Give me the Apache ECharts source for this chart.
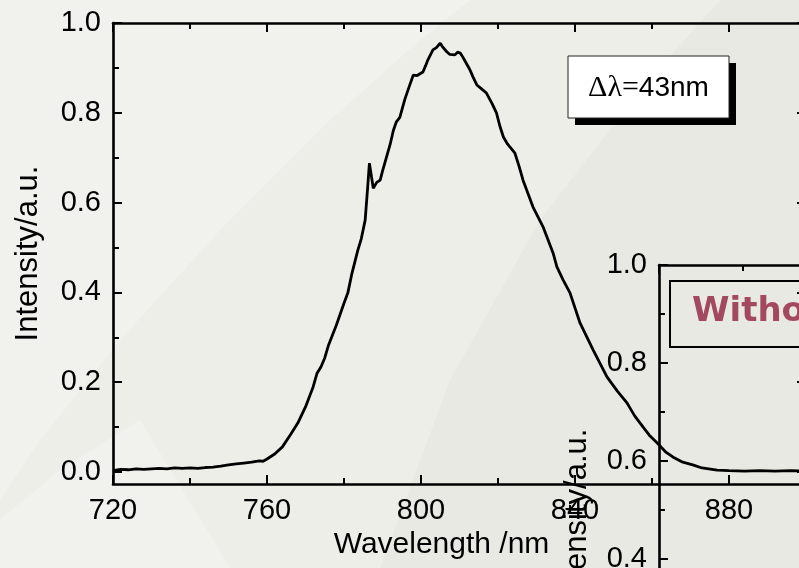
<!DOCTYPE html>
<html>
<head>
<meta charset="utf-8">
<script src="https://cdn.jsdelivr.net/npm/echarts@6/dist/echarts.min.js"></script>
<style>
html,body{margin:0;padding:0;background:#eeeee9;}
#chart{width:799px;height:568px;}
</style>
</head>
<body>
<div id="chart"></div>
<script>
// ---- data ----
const wavelengths = [720,722,724,726,728,730,732,734,736,738,740,742,744,746,748,750,752,754,756,758,759,760,762,764,766,768,770,772,773,774,775,776,778,780,781,782,783.6,784.5,785.5,786.2,786.6,787.1,787.6,788.5,789.4,790,791,792,792.8,793.6,794.5,795.8,797,798,799,800.5,801.2,801.8,803.1,804,805,805.5,806.7,807.5,808.8,809.5,810.2,811,811.4,812.7,813.5,814.5,815.5,817,818.5,819.6,820.5,821.4,822.5,824.4,825.5,826.5,829.1,831.7,834.3,835.3,836.9,838.7,841.3,844.7,848.3,851,853.5,855.5,857.7,859.5,861.3,863.5,865.5,868,870.6,873,876.9,880,884,888,892,896,900];
const intensity = [0.003,0.006,0.005,0.007,0.006,0.007,0.008,0.007,0.009,0.008,0.009,0.008,0.010,0.011,0.013,0.016,0.018,0.020,0.022,0.025,0.024,0.029,0.040,0.056,0.082,0.109,0.145,0.190,0.220,0.234,0.254,0.283,0.327,0.376,0.399,0.440,0.494,0.520,0.561,0.640,0.688,0.660,0.632,0.645,0.650,0.670,0.700,0.730,0.760,0.780,0.790,0.830,0.860,0.884,0.883,0.891,0.905,0.918,0.940,0.945,0.955,0.948,0.936,0.930,0.929,0.935,0.933,0.922,0.925,0.896,0.880,0.862,0.855,0.844,0.820,0.800,0.770,0.746,0.730,0.710,0.680,0.650,0.590,0.546,0.488,0.457,0.428,0.399,0.332,0.272,0.212,0.180,0.154,0.125,0.100,0.080,0.065,0.045,0.033,0.022,0.016,0.009,0.004,0.003,0.002,0.003,0.002,0.003,0.002];

const xMajorTicks = [720,760,800,840,880];
const xMinorTicks = [740,780,820,860];
const yMajorTicks = [0,0.2,0.4,0.6,0.8,1.0];
const yMinorTicks = [0.1,0.3,0.5,0.7,0.9];

const xAxisTitle = 'Wavelength /nm';
const yAxisTitle = 'Intensity/a.u.';
const insetYAxisTitle = 'Intensity/a.u.';
const widthLabel = ['Δλ=', '43nm'];
const insetLabel = 'Without';

// ---- styles ----
const FONT = 'Liberation Sans, Arial, sans-serif';
const lineStyle = {color:'#000', width:2.6};
const tickStyle = {color:'#000', width:2};

function xAxes(grid, pos, min, max, withLabels, name, nameGap) {
  const major = {
    type:'value', gridIndex:grid, position:pos, min:min, max:max,
    axisLine:{show:true, onZero:false, lineStyle:lineStyle},
    axisTick:{show:true, inside:true, length:9, lineStyle:tickStyle, customValues:xMajorTicks},
    axisLabel:{show:withLabels, customValues:xMajorTicks, color:'#000', fontFamily:FONT, fontSize:29, margin:12},
    splitLine:{show:false}
  };
  if (name) {
    major.name = name; major.nameLocation = 'middle'; major.nameGap = nameGap;
    major.nameTextStyle = {color:'#000', fontFamily:FONT, fontSize:30, padding:[0,36,0,0]};
  }
  const minor = {
    type:'value', gridIndex:grid, position:pos, min:min, max:max,
    axisLine:{show:false, onZero:false},
    axisTick:{show:true, inside:true, length:6, lineStyle:tickStyle, customValues:xMinorTicks},
    axisLabel:{show:false}, splitLine:{show:false}
  };
  return [major, minor];
}
function yAxes(grid, pos, min, max, withLabels, name, nameGap) {
  const major = {
    type:'value', gridIndex:grid, position:pos, min:min, max:max,
    axisLine:{show:true, onZero:false, lineStyle:lineStyle},
    axisTick:{show:true, inside:true, length:9, lineStyle:tickStyle, customValues:yMajorTicks},
    axisLabel:{show:withLabels, customValues:yMajorTicks, color:'#000', fontFamily:FONT, fontSize:29, margin:12,
               formatter:v => Number(v).toFixed(1)},
    splitLine:{show:false}
  };
  if (name) {
    major.name = name; major.nameLocation = 'middle'; major.nameGap = nameGap;
    major.nameTextStyle = {color:'#000', fontFamily:FONT, fontSize:31};
  }
  const minor = {
    type:'value', gridIndex:grid, position:pos, min:min, max:max,
    axisLine:{show:false, onZero:false},
    axisTick:{show:true, inside:true, length:6, lineStyle:tickStyle, customValues:yMinorTicks},
    axisLabel:{show:false}, splitLine:{show:false}
  };
  return [major, minor];
}

const xAxisList = [].concat(
  xAxes(0,'bottom',720,900,true,xAxisTitle,30),   // 0,1
  xAxes(0,'top',720,900,false),                    // 2,3
  xAxes(1,'top',720,900,false),                    // 4,5
  xAxes(1,'bottom',720,900,false)                  // 6,7
);
const yAxisList = [].concat(
  yAxes(0,'left',-0.0267,1.0,true,yAxisTitle,69),  // 0,1
  yAxes(0,'right',-0.0267,1.0,false),              // 2,3
  yAxes(1,'left',-0.0265,1.0,true,insetYAxisTitle,66), // 4,5
  yAxes(1,'right',-0.0265,1.0,false)               // 6,7
);

const chart = echarts.init(document.getElementById('chart'), null, {renderer:'canvas'});
chart.setOption({
  backgroundColor:'#eeeee9',
  animation:false,
  grid:[
    {left:113, top:23, width:693, height:461, containLabel:false, outerBoundsMode:'none'},
    {left:659, top:265, width:755, height:503, containLabel:false, outerBoundsMode:'none'}
  ],
  xAxis:xAxisList,
  yAxis:yAxisList,
  graphic:[
    // subtle background texture
    {type:'polygon', silent:true, z:-10, shape:{points:[[0,0],[470,0],[420,40],[330,120],[220,230],[120,340],[40,440],[0,500]]}, style:{fill:'rgba(255,255,255,0.22)'}},
    {type:'polygon', silent:true, z:-10, shape:{points:[[380,568],[450,380],[540,220],[640,90],[720,0],[799,0],[799,568]]}, style:{fill:'rgba(110,110,100,0.035)'}},
    {type:'polygon', silent:true, z:-10, shape:{points:[[0,568],[0,520],[60,470],[140,420],[230,568]]}, style:{fill:'rgba(255,255,255,0.18)'}},
    // Δλ box with shadow
    {type:'rect', z:10, shape:{x:575, y:63, width:161, height:62}, style:{fill:'#000'}},
    {type:'rect', z:11, shape:{x:568, y:56, width:161, height:62}, style:{fill:'#fff', stroke:'#222', lineWidth:1}},
    {type:'text', z:12, x:648.5, y:88, style:{
      text:'{a|' + widthLabel[0] + '}{b|' + widthLabel[1] + '}',
      align:'center', verticalAlign:'middle',
      rich:{a:{fontFamily:'Liberation Serif', fontSize:30, fill:'#000'},
            b:{fontFamily:'Liberation Sans', fontSize:28, fill:'#000'}}
    }},
    // inset label box
    {type:'rect', z:10, shape:{x:670, y:281, width:260, height:66}, style:{fill:'none', stroke:'#000', lineWidth:2}},
    {type:'text', z:11, x:692, y:312, style:{
      text:insetLabel, align:'left', verticalAlign:'middle',
      fontFamily:'DejaVu Sans, sans-serif', fontWeight:'bold', fontSize:34, fill:'#a3495f'
    }}
  ],
  series:[{
    type:'line', xAxisIndex:0, yAxisIndex:0,
    data:wavelengths.map((w,i)=>[w,intensity[i]]),
    showSymbol:false, symbol:'none',
    lineStyle:{color:'#000', width:2.8},
    z:5
  }]
});
</script>
</body>
</html>
